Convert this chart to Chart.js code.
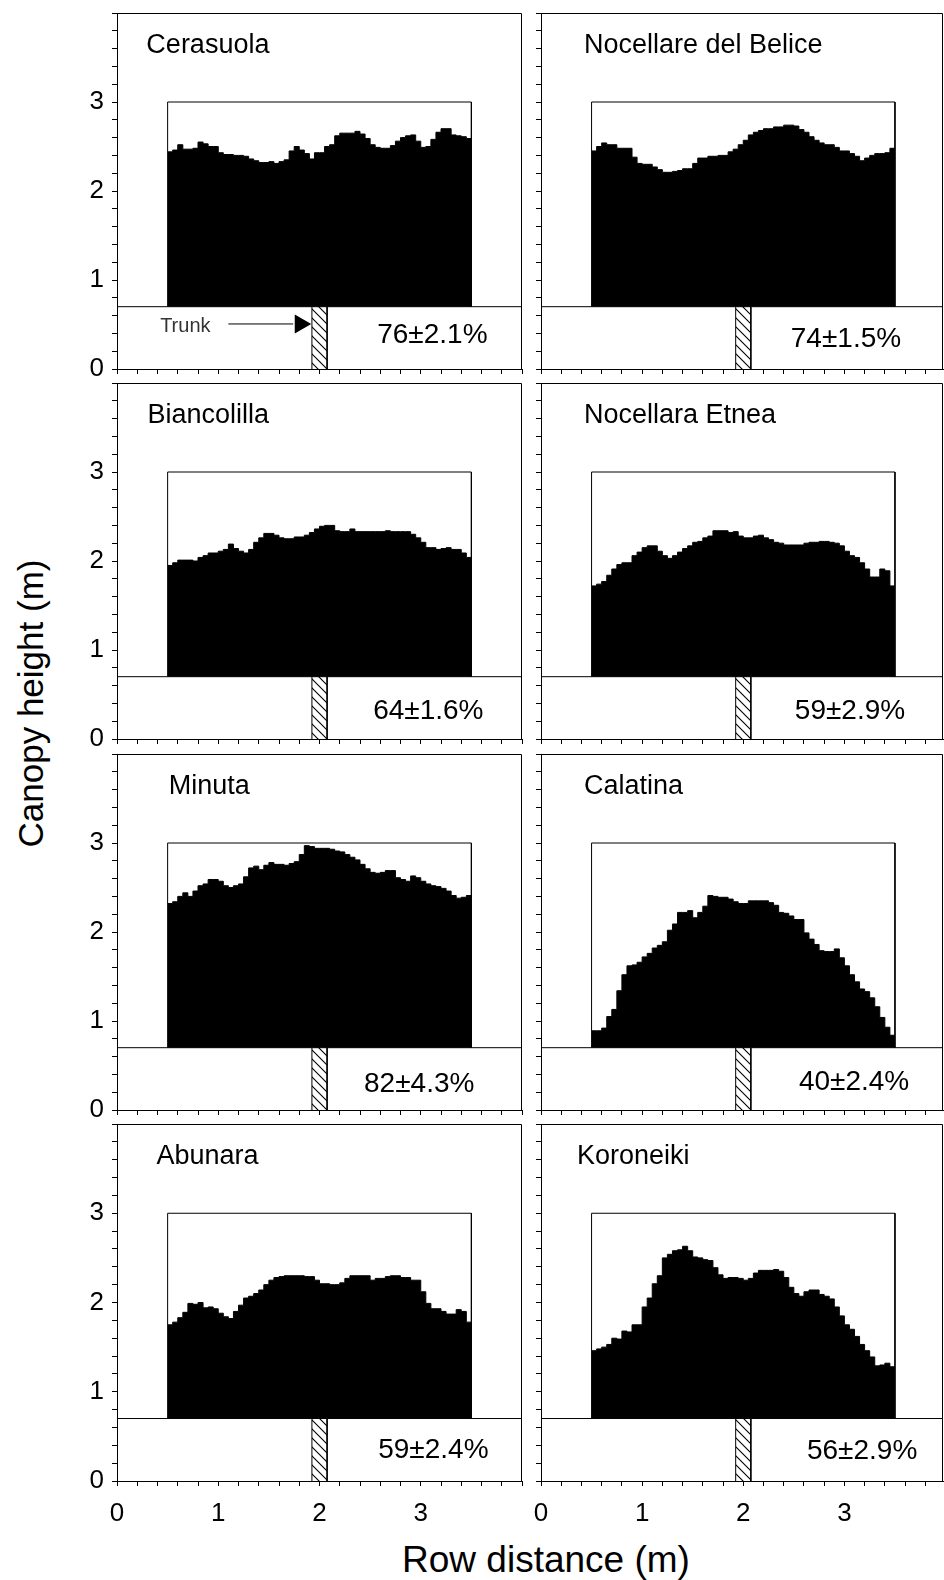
<!DOCTYPE html>
<html>
<head>
<meta charset="utf-8">
<script src="https://cdn.jsdelivr.net/npm/chart.js@4.4.1/dist/chart.umd.min.js"></script>
<style>
html,body{margin:0;padding:0;background:#fff;}
body{width:944px;height:1580px;position:relative;overflow:hidden;font-family:"Liberation Sans",Arial,sans-serif;}
canvas{position:absolute;}
#ytitle{position:absolute;left:-170px;top:685.5px;width:400px;height:35px;line-height:35px;font-size:35px;text-align:center;transform:rotate(-90deg);color:#000;white-space:nowrap;}
#xtitle{position:absolute;left:246px;top:1540.5px;width:600px;height:37px;line-height:37px;font-size:37px;text-align:center;color:#000;white-space:nowrap;}
</style>
</head>
<body>
<div id="ytitle">Canopy height (m)</div>
<div id="xtitle">Row distance (m)</div>
<script>
// ---------------- DATA ----------------
const cultivars = ['Cerasuola','Nocellare del Belice','Biancolilla','Nocellara Etnea','Minuta','Calatina','Abunara','Koroneiki'];

// canopy height (m) in 0.05 m bins from 0.5 m to 3.5 m along the row
const cerasuola = [2.44,2.46,2.52,2.47,2.47,2.48,2.55,2.53,2.50,2.50,2.43,2.41,2.41,2.40,2.40,2.39,2.36,2.34,2.32,2.32,2.33,2.31,2.33,2.35,2.45,2.50,2.46,2.42,2.36,2.43,2.43,2.50,2.52,2.62,2.65,2.65,2.65,2.67,2.64,2.59,2.52,2.49,2.48,2.48,2.51,2.56,2.60,2.62,2.63,2.56,2.49,2.50,2.58,2.66,2.70,2.70,2.63,2.62,2.61,2.59];
const nocellareBelice = [2.45,2.50,2.54,2.52,2.52,2.48,2.48,2.48,2.38,2.31,2.30,2.30,2.27,2.24,2.21,2.21,2.22,2.23,2.25,2.25,2.31,2.37,2.37,2.39,2.39,2.40,2.40,2.44,2.47,2.52,2.57,2.63,2.66,2.68,2.70,2.70,2.72,2.72,2.74,2.74,2.73,2.69,2.66,2.61,2.57,2.54,2.52,2.52,2.49,2.45,2.45,2.42,2.39,2.34,2.37,2.40,2.42,2.42,2.43,2.48];
const biancolilla = [1.95,1.98,2.01,2.01,2.01,2.00,2.04,2.06,2.09,2.09,2.11,2.13,2.19,2.14,2.11,2.09,2.13,2.21,2.26,2.31,2.31,2.29,2.26,2.25,2.25,2.27,2.27,2.29,2.32,2.36,2.39,2.40,2.40,2.34,2.33,2.33,2.36,2.33,2.33,2.33,2.33,2.33,2.33,2.34,2.33,2.33,2.33,2.33,2.30,2.26,2.21,2.15,2.15,2.13,2.14,2.15,2.13,2.13,2.09,2.04];
const nocellaraEtnea = [1.72,1.74,1.77,1.84,1.91,1.96,1.98,1.98,2.06,2.10,2.15,2.17,2.17,2.11,2.06,2.03,2.06,2.10,2.14,2.17,2.21,2.22,2.26,2.28,2.34,2.34,2.34,2.32,2.33,2.28,2.26,2.26,2.28,2.29,2.26,2.24,2.21,2.20,2.18,2.18,2.18,2.18,2.20,2.21,2.21,2.22,2.22,2.21,2.20,2.17,2.11,2.06,2.04,1.98,1.91,1.82,1.82,1.91,1.89,1.72];
const minuta = [2.32,2.34,2.40,2.44,2.40,2.46,2.52,2.54,2.59,2.59,2.57,2.52,2.50,2.52,2.54,2.62,2.72,2.74,2.70,2.75,2.78,2.76,2.76,2.75,2.77,2.79,2.87,2.97,2.96,2.94,2.94,2.94,2.93,2.91,2.90,2.87,2.84,2.81,2.76,2.71,2.67,2.66,2.67,2.69,2.69,2.61,2.59,2.57,2.63,2.61,2.57,2.54,2.52,2.51,2.49,2.46,2.41,2.38,2.39,2.41];
const calatina = [0.89,0.89,0.92,1.05,1.13,1.34,1.52,1.62,1.63,1.66,1.72,1.76,1.82,1.85,1.89,2.02,2.09,2.22,2.22,2.24,2.16,2.22,2.29,2.41,2.40,2.39,2.39,2.37,2.34,2.32,2.32,2.35,2.35,2.35,2.35,2.33,2.30,2.22,2.21,2.18,2.14,2.14,1.99,1.92,1.86,1.79,1.78,1.78,1.81,1.71,1.62,1.52,1.44,1.36,1.33,1.26,1.16,1.04,0.93,0.84];
const abunara = [1.75,1.78,1.83,1.89,1.99,1.98,2.00,1.94,1.95,1.93,1.88,1.84,1.82,1.90,1.97,2.05,2.07,2.10,2.14,2.20,2.25,2.28,2.29,2.30,2.30,2.30,2.30,2.29,2.29,2.25,2.21,2.21,2.20,2.20,2.22,2.27,2.30,2.30,2.30,2.30,2.25,2.27,2.27,2.29,2.30,2.30,2.28,2.28,2.25,2.25,2.12,1.99,1.93,1.93,1.90,1.87,1.87,1.92,1.90,1.78];
const koroneiki = [1.46,1.48,1.50,1.53,1.60,1.59,1.68,1.67,1.75,1.75,1.95,2.05,2.21,2.30,2.50,2.54,2.58,2.59,2.63,2.58,2.51,2.50,2.48,2.47,2.39,2.31,2.27,2.28,2.28,2.27,2.25,2.27,2.33,2.36,2.36,2.36,2.37,2.35,2.28,2.17,2.10,2.07,2.12,2.14,2.14,2.09,2.07,2.04,1.95,1.85,1.75,1.70,1.62,1.53,1.46,1.39,1.29,1.30,1.32,1.28];
const profiles = [cerasuola, nocellareBelice, biancolilla, nocellaraEtnea, minuta, calatina, abunara, koroneiki];

const coverage = ['76\u00B12.1%','74\u00B11.5%','64\u00B11.6%','59\u00B12.9%','82\u00B14.3%','40\u00B12.4%','59\u00B12.4%','56\u00B12.9%'];

const binStart = 0.5, binWidth = 0.05;
const canopyBoxX = [0.5, 0.5, 3.5, 3.5];
const canopyBoxY = [0.7, 3.0, 3.0, 0.7];
const groundX = [0, 4];
const groundY = 0.7;
const trunkX = [1.925, 2.075];
const trunkTop = 0.7;
const xTickLabels = ['0','1','2','3'];
const yTickLabels = ['0','1','2','3'];

// ---------------- LAYOUT (positions, data units) ----------------
const titlePos = [[0.29,3.555],[0.425,3.555],[0.30,3.555],[0.425,3.555],[0.51,3.555],[0.425,3.555],[0.39,3.555],[0.356,3.555]];
const coveragePos = [[2.57,0.29],[2.47,0.25],[2.53,0.23],[2.51,0.23],[2.44,0.20],[2.55,0.22],[2.58,0.26],[2.63,0.25]];
const trunkLabelPos = [0.426, 0.42];
const arrowLineX = [1.1, 1.74];
const arrowHeadX = 1.81;
const arrowY = 0.506;

const colGeom = [{left:117, width:405, xmax:4}, {left:541, width:402, xmax:3.975}];
const rowGeom = [{top:13, height:356},{top:383, height:356},{top:754, height:356},{top:1124, height:357}];
const YW = 60, XH = 45, PT = 4, PR = 4;
const FONT = '"Liberation Sans", Arial, sans-serif';

Chart.defaults.font.family = FONT;

function makeHatch(ctx){
  const s = 9;
  const c = document.createElement('canvas');
  c.width = s; c.height = s;
  const g = c.getContext('2d');
  g.fillStyle = '#fff'; g.fillRect(0,0,s,s);
  g.strokeStyle = '#000'; g.lineWidth = 1.1;
  g.beginPath();
  g.moveTo(-1,-1); g.lineTo(s+1,s+1);
  g.moveTo(-1,s-1); g.lineTo(1,s+1);
  g.moveTo(s-1,-1); g.lineTo(s+1,1);
  g.stroke();
  return ctx.createPattern(c,'repeat');
}

function tickLabel(list, v){
  const i = list.findIndex(t => Math.abs(Number(t) - v) < 1e-6);
  return i >= 0 ? list[i] : '';
}

function noPad(s){ s.paddingTop = 0; s.paddingBottom = 0; s.paddingLeft = 0; s.paddingRight = 0; }

const framePlugin = {
  id: 'frame',
  afterDraw(chart){
    const {ctx, chartArea:a} = chart;
    ctx.save();
    ctx.strokeStyle = '#000'; ctx.lineWidth = 1;
    const t = Math.round(a.top) + 0.5, r = Math.round(a.right) - 0.5;
    ctx.beginPath();
    ctx.moveTo(a.left, t); ctx.lineTo(r, t); ctx.lineTo(r, a.bottom + 1);
    ctx.stroke();
    ctx.restore();
  }
};

function textPlugin(p){
  return {
    id: 'panelText' + p,
    afterDatasetsDraw(chart){
      const {ctx} = chart; const x = chart.scales.x, y = chart.scales.y;
      ctx.save();
      ctx.fillStyle = '#000'; ctx.textAlign = 'left'; ctx.textBaseline = 'alphabetic';
      ctx.font = '27px ' + FONT;
      ctx.fillText(cultivars[p], x.getPixelForValue(titlePos[p][0]), y.getPixelForValue(titlePos[p][1]));
      ctx.font = '28px ' + FONT;
      ctx.fillText(coverage[p], x.getPixelForValue(coveragePos[p][0]), y.getPixelForValue(coveragePos[p][1]));
      if (p === 0) {
        ctx.font = '20px ' + FONT; ctx.fillStyle = '#333';
        ctx.fillText('Trunk', x.getPixelForValue(trunkLabelPos[0]), y.getPixelForValue(trunkLabelPos[1]));
      }
      ctx.restore();
    }
  };
}

for (let p = 0; p < 8; p++) {
  const r = Math.floor(p / 2), c = p % 2;
  const cg = colGeom[c], rg = rowGeom[r];
  const cv = document.createElement('canvas');
  const w = YW + cg.width + PR, h = PT + rg.height + XH;
  cv.width = w; cv.height = h;
  cv.style.left = (cg.left - YW) + 'px';
  cv.style.top = (rg.top - PT) + 'px';
  cv.style.width = w + 'px'; cv.style.height = h + 'px';
  document.body.appendChild(cv);
  const ctx = cv.getContext('2d');

  const prof = profiles[p];
  const canopyPts = prof.map((v, i) => ({x: binStart + i * binWidth, y: v}));
  canopyPts.push({x: binStart + prof.length * binWidth, y: prof[prof.length - 1]});

  const datasets = [];
  if (p === 0) {
    datasets.push({data: [{x: arrowHeadX, y: arrowY}], showLine: false, pointStyle: 'triangle', rotation: 90,
      pointRadius: 11, backgroundColor: '#000', borderColor: '#000', borderWidth: 0});
    datasets.push({data: arrowLineX.map(xv => ({x: xv, y: arrowY})), showLine: true, pointRadius: 0,
      borderColor: '#000', borderWidth: 1, fill: false});
  }
  datasets.push({data: [{x: trunkX[0], y: 0}, {x: trunkX[0], y: trunkTop}, {x: trunkX[1], y: trunkTop}, {x: trunkX[1], y: 0}],
    showLine: true, pointRadius: 0, borderColor: '#000', borderWidth: 1, backgroundColor: makeHatch(ctx), fill: {value: 0}});
  datasets.push({data: groundX.map(xv => ({x: xv, y: groundY})), showLine: true, pointRadius: 0,
    borderColor: '#000', borderWidth: 1, fill: false});
  datasets.push({data: canopyBoxX.map((xv, i) => ({x: xv, y: canopyBoxY[i]})), showLine: true, pointRadius: 0,
    borderColor: '#000', borderWidth: 1, fill: false});
  datasets.push({data: canopyPts, showLine: true, stepped: true, pointRadius: 0,
    borderColor: '#000', borderWidth: 1, backgroundColor: '#000', fill: {value: groundY}});

  const showX = (r === 3), showY = (c === 0);

  new Chart(cv, {
    type: 'scatter',
    data: {datasets},
    options: {
      responsive: false, animation: false, events: [],
      layout: {padding: {top: PT, right: PR, left: 0, bottom: 0}, autoPadding: false},
      plugins: {legend: {display: false}, tooltip: {enabled: false}, title: {display: false}},
      scales: {
        x: {
          type: 'linear', min: 0, max: cg.xmax, position: 'bottom',
          ticks: {stepSize: 0.2, autoSkip: false, maxRotation: 0, minRotation: 0, includeBounds: false, padding: 12,
            color: '#000', font: {size: 26, family: FONT},
            callback: v => showX ? tickLabel(xTickLabels, v) : ''},
          grid: {display: true, drawOnChartArea: false, drawTicks: true, tickLength: 5, tickColor: '#000', tickWidth: 1},
          border: {display: true, color: '#000', width: 1},
          afterFit: s => { s.height = XH; noPad(s); }
        },
        y: {
          type: 'linear', min: 0, max: 4, position: 'left',
          ticks: {stepSize: 0.2, autoSkip: false, includeBounds: false, padding: 8,
            color: '#000', font: {size: 26, family: FONT},
            callback: v => showY ? tickLabel(yTickLabels, v) : ''},
          grid: {display: true, drawOnChartArea: false, drawTicks: true, tickLength: 5, tickColor: '#000', tickWidth: 1},
          border: {display: true, color: '#000', width: 1},
          afterFit: s => { s.width = YW; noPad(s); }
        }
      }
    },
    plugins: [framePlugin, textPlugin(p)]
  });
}
</script>
</body>
</html>
